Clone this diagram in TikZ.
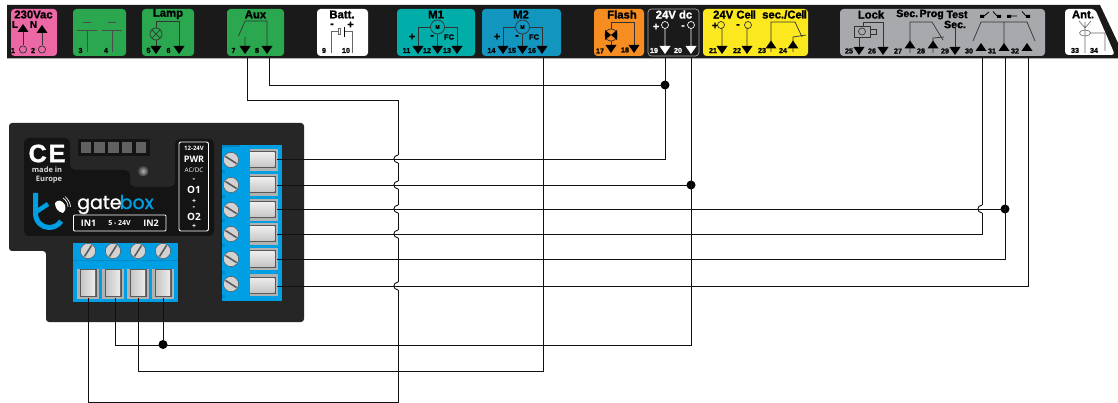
\documentclass[tikz,border=0pt]{standalone}
\usepackage{fontspec}
\setmainfont{Liberation Sans}[BoldFeatures={FakeBold=1.4}]
\newfontfamily\opn{Open Sans}
\newfontfamily\pop{Poppins}[FakeBold=0.9]
\usetikzlibrary{calc}
\definecolor{barblack}{HTML}{1A1A1A}
\definecolor{pinkc}{HTML}{EC68A5}
\definecolor{greenc}{HTML}{2BA84F}
\definecolor{tealc}{HTML}{00ADA9}
\definecolor{blueh}{HTML}{1296BF}
\definecolor{orangec}{HTML}{F58D20}
\definecolor{yellowc}{HTML}{FCE81F}
\definecolor{grayc}{HTML}{A7A9AC}
\definecolor{devc}{HTML}{262626}
\definecolor{panelc}{HTML}{141414}
\definecolor{termb}{HTML}{009FE3}
\definecolor{termd}{HTML}{0089C9}
\definecolor{wirec}{HTML}{111111}
\tikzset{
 x=1pt,y=-1pt,
 box/.style={rounded corners=3.5pt,draw=none},
 ttl/.style={font=\bfseries\fontsize{11.3}{11.3}\selectfont,inner sep=0pt,text=black},
 num/.style={font=\bfseries\fontsize{7.2}{7.2}\selectfont,inner sep=0pt,text=black},
 sgn/.style={font=\bfseries\fontsize{11}{11}\selectfont,inner sep=0pt,text=black},
 sym/.style={line width=.7pt,draw=black!80},
 wsym/.style={line width=.7pt,draw=white},
 wire/.style={line width=.9pt,draw=wirec},
 dot/.style={circle,fill=black,inner sep=0pt,minimum size=9pt},
 pw/.style={font=\opn\bfseries\fontsize{8}{8}\selectfont,inner sep=0pt,text=white},
}
\newcommand{\tdn}[3][black]{\fill[#1] (#2-5.5,#3) -- (#2+5.5,#3) -- (#2,#3+8) -- cycle;}
\newcommand{\tup}[3][black]{\fill[#1] (#2-5.5,#3) -- (#2+5.5,#3) -- (#2,#3-8) -- cycle;}
\newcommand{\rscrew}[2]{%
 \fill[gray!35] (#1,#2) circle (7.6);
 \draw[gray!70!black,line width=.5pt] (#1,#2) circle (7.6);
 \draw[black!65,line width=1.6pt] (#1-5.5,#2-3.5) -- (#1+5.5,#2+3.5);}
\newcommand{\bscrew}[2]{%
 \fill[gray!35] (#1,#2) circle (7.6);
 \draw[gray!70!black,line width=.5pt] (#1,#2) circle (7.6);
 \draw[black!65,line width=1.6pt] (#1-3.5,#2+5.5) -- (#1+3.5,#2-5.5);}
\newcommand{\rterm}[1]{%
 \fill[gray!60] (250,#1-11) rectangle (278,#1+11);
 \fill[black!65] (250,#1-8.5) rectangle (276,#1+8.5);
 \shade[top color=gray!15,bottom color=gray!45] (250,#1-7) rectangle (274.5,#1+7);}
\newcommand{\bterm}[1]{%
 \fill[gray!60] (#1-11,269) rectangle (#1+11,299);
 \fill[black!65] (#1-8.5,269) rectangle (#1+8.5,296.5);
 \shade[left color=gray!45,right color=gray!15] (#1-7,270) rectangle (#1+7,295);}
\newcommand{\hopat}[2]{\draw[wire] (#1,#2-4) .. controls (#1-5.5,#2-3) and (#1-5.5,#2+3) .. (#1,#2+4);}
\begin{document}
\begin{tikzpicture}
\useasboundingbox (0,0) rectangle (1118,403);
\fill[white] (0,0) rectangle (1118,403);
% header bar
\fill[barblack] (7,5) -- (1100,5) -- (1118,43) -- (1118,58.5) -- (7,58.5) -- cycle;
% module boxes
\fill[pinkc,box] (11,9) rectangle (57,56);
\fill[greenc,box] (73,9) rectangle (126,56);
\fill[greenc,box] (142,9) rectangle (194,56);
\fill[greenc,box] (227,9) rectangle (284,56);
\fill[white,box] (317,9) rectangle (368,56);
\fill[tealc,box] (397,9) rectangle (475,56);
\fill[blueh,box] (482,9) rectangle (561,56);
\fill[orangec,box] (594,9) rectangle (644,56);
\draw[gray!70,rounded corners=3.5pt,line width=.7pt] (648,9) rectangle (699,56);
\fill[yellowc,box] (703,9) rectangle (808,56);
\fill[grayc,box] (840,9) rectangle (1045,56);
\fill[white,rounded corners=3.5pt] (1065,9) -- (1095,9) -- (1115,55) -- (1065,55) -- cycle;
% 230Vac
\node[ttl] at (33.5,14.5) {230Vac};
\node[sgn,font=\bfseries\fontsize{9.5}{9.5}\selectfont] at (15,24.5) {L};
\node[sgn,font=\bfseries\fontsize{9.5}{9.5}\selectfont] at (33.5,24.5) {N};
\tup{23}{32}\tup{42}{33}
\draw[sym] (23,32) -- (23,45.5) (42,33) -- (42,45.5);
\draw[sym] (23,49.5) circle (3.6) (42,49.5) circle (3.6);
\node[num] at (13,50.5) {1};\node[num] at (33,50.5) {2};
% 3 4
\draw[line width=.7pt,draw=black!70] (83,22) -- (91,22) (77,30) -- (97,30) (87,30) -- (87,52)
 (108,22) -- (116,22) (102,30) -- (122,30) (112,30) -- (112,52);
\node[num] at (80.5,50.5) {3};\node[num] at (106,50.5) {4};
% Lamp
\node[ttl] at (168,14) {Lamp};
\draw[sym] (156,28) -- (156,21) -- (179,21) -- (179,46) (156,40) -- (156,46);
\draw[sym] (156,34) circle (6) (151.8,29.8) -- (160.2,38.2) (151.8,38.2) -- (160.2,29.8);
\tdn{156}{46}\tdn{179}{46}
\node[num] at (148.5,50.5) {5};\node[num] at (168.5,50.5) {6};
% Aux
\node[ttl] at (255.5,14.5) {Aux};
\draw[sym] (238.5,36) -- (245,21) -- (267,21) -- (267,46) (245,37) -- (245,46);
\tdn{245}{46}\tdn{267}{46}
\node[num] at (233.5,50.5) {7};\node[num] at (257,50.5) {8};
% Batt
\node[ttl] at (342,14.5) {Batt.};
\node[sgn] at (332,25.5) {-};\node[sgn] at (350.5,25) {+};
\draw[line width=.6pt,draw=black!60] (331,53) -- (331,31) -- (338,31) (344,31) -- (352,31) -- (352,53);
\draw[line width=.5pt,draw=black!60] (338,28) rectangle (340,34);
\draw[line width=1pt,draw=black] (344,27) -- (344,37);
\node[num] at (324,50.5) {9};\node[num] at (346,50.5) {10};
% M1 / M2
\foreach \dx/\na/\nb/\nc/\ti/\cc in {0/11/12/13/M1/tealc,85/14/15/16/M2/blueh}{
 \node[ttl] at (436+\dx,14.5) {\ti};
 \draw[sym] (418+\dx,46) -- (418+\dx,27) -- (457+\dx,27) -- (457+\dx,46) (437.5+\dx,34) -- (437.5+\dx,46);
 \draw[sym,fill=\cc] (437.5+\dx,27) circle (7);
 \node[num,font=\bfseries\fontsize{5.5}{5.5}\selectfont] at (437.5+\dx,27) {M};
 \tdn{418+\dx}{46}\tdn{437.5+\dx}{46}\tdn{457+\dx}{46}
 \node[sgn] at (412+\dx,37) {+};\node[sgn] at (432+\dx,37) {-};
 \node[num,font=\bfseries\fontsize{7.5}{7.5}\selectfont] at (449+\dx,37) {FC};
 \node[num] at (406.5+\dx,50.5) {\na};\node[num] at (427+\dx,50.5) {\nb};\node[num] at (447+\dx,50.5) {\nc};
}
% Flash
\node[ttl] at (622,14.5) {Flash};
\draw[sym] (611,29) -- (611,22) -- (634,22) -- (634,45) (611,41) -- (611,46);
\draw[sym] (611,35) circle (6);
\fill[black] (605,30) -- (611,35) -- (617,30) -- (617,40) -- (611,35) -- (605,40) -- cycle;
\tdn{611}{45}\tdn{634}{45}
\node[num] at (600,51) {17};\node[num] at (625,50) {18};
% 24V dc
\node[ttl,text=white] at (674,14.5) {24V dc};
\node[sgn,text=white] at (656,27) {+};\node[sgn,text=white] at (683,27) {-};
\draw[wsym] (665,25) circle (3.5) (691,25) circle (3.5) (665,28.5) -- (665,46) (691,28.5) -- (691,46);
\tdn[white]{665}{46}\tdn[white]{691}{46}
\node[num,text=white] at (654,50.5) {19};\node[num,text=white] at (678,50.5) {20};
% yellow
\node[ttl] at (734.5,14.5) {24V Ce\kern-.5pt l\kern-.7pt l};
\node[ttl] at (784.5,14.5) {sec./Ce\kern-.5pt l\kern-.7pt l};
\node[sgn] at (715,26) {+};\node[sgn] at (738,26) {-};
\draw[sym] (721,25) circle (3.5) (748,25) circle (3.5) (722,28) -- (722,46) (747,28) -- (747,46);
\tdn{722}{46}\tdn{747}{46}
\node[num] at (713,50.5) {21};\node[num] at (737,50.5) {22};
\draw[sym] (771,52) -- (771,22) -- (795,22) -- (802,37) (793,52) -- (793,37) -- (806,35);
\tup{771}{48.5}\tup{793}{48.5}
\node[num] at (762,50.5) {23};\node[num] at (783,50.5) {24};
% Lock
\node[ttl] at (871,14.5) {Lock};
\draw[sym] (854,26) rectangle (870,37) (870,29) rectangle (876,34);
\draw[sym] (862,31.5) circle (3.5);
\draw[sym] (863,22) -- (883,22) -- (883,47) (859,37) -- (859,47) (863,22) -- (863,26);
\tdn{859}{47}\tdn{883}{47}
\node[num] at (849,51) {25};\node[num] at (872,51) {26};
% Sec prog
\node[ttl,font=\bfseries\fontsize{10.6}{10.6}\selectfont] at (920,14.5) {Sec.\kern1.5pt Prog};
\draw[sym] (910,53) -- (910,22) -- (932,22) -- (943,40) (933,53) -- (933,38) -- (944,37);
\tup{910}{48.5}\tup{933}{48.5}
\node[num] at (898,51) {27};\node[num] at (921,51) {28};
% Test Sec
\node[ttl,font=\bfseries\fontsize{10.6}{10.6}\selectfont] at (957,14.5) {Test};
\node[ttl,font=\bfseries\fontsize{10.6}{10.6}\selectfont] at (955,24.5) {Sec.};
\draw[sym] (955,28) -- (955,47);
\tdn{955}{47}
\node[num] at (945,51) {29};
% relays
\draw[sym] (973,41) -- (981,22) -- (1027,22) -- (1035,41) (1004,22) -- (1004,47);
\draw[sym] (981,51) -- (981,45) (1027,51) -- (1027,45);
\tup{981}{51}\tup{1004}{51}\tup{1027}{51}
\node[num] at (969,51) {30};\node[num] at (992,51) {31};\node[num] at (1015,51) {32};
\fill[black] (980,15) rectangle (984,18) (997,15) rectangle (1001,18) (1007,15) rectangle (1011,18) (1026,15) rectangle (1030,18);
\draw[line width=.8pt] (984,16) -- (989,12) (997,16) -- (993,11.5) (1011,16) -- (1017,16) (1026,16) -- (1022,11.5);
% Ant
\node[ttl] at (1083,14.5) {Ant.};
\draw[line width=.6pt,draw=black!60] (1079,21) -- (1085,28) -- (1091,21) (1085,22) -- (1085,53) (1090,33) -- (1105,33) -- (1105,51);
\draw[line width=.6pt,draw=black!60] (1085,33) ellipse (5.5 and 3);
\node[num] at (1075,50.5) {33};\node[num] at (1094,50.5) {34};
% device
\fill[devc,rounded corners=3pt] (9,123) -- (304,123) -- (304,322) -- (46,322) -- (46,251) -- (9,251) -- cycle;
\fill[panelc,rounded corners=5pt] (24,138) -- (70,138) -- (70,170) -- (130,170) -- (130,187) -- (175,187) -- (175,139) -- (214,139) -- (214,236) -- (24,236) -- cycle;
\fill[panelc] (78,139) rectangle (150,156);
\foreach \i in {0,...,4} \fill[black!62] (80.5+\i*13.8,142) rectangle (91+\i*13.8,153);
\shade[inner color=gray!60,outer color=black!80] (143,171) circle (5.5);
\node[font=\bfseries\fontsize{25}{25}\selectfont,text=white,inner sep=0pt] at (47,153.5) {C\kern2pt E};
\node[font=\opn\bfseries\fontsize{7.5}{7.5}\selectfont,text=white!85!black,inner sep=0pt] at (47,170) {made in};
\node[font=\opn\bfseries\fontsize{7.5}{7.5}\selectfont,text=white!85!black,inner sep=0pt] at (49,179.5) {Europe};
% logo
\draw[termb,line width=5pt] (35.5,193) -- (35.5,213) .. controls (35.5,222) and (42,227.5) .. (49,227.5) .. controls (54,227.5) and (59,225) .. (61,221);
\draw[termb,line width=4.5pt] (36,212) -- (48,204);
\fill[white] (55,203) .. controls (58,199) and (62,200) .. (65,205) .. controls (66,209) and (65,212) .. (63,213) .. controls (58,212) and (55,208) .. (55,203) -- cycle;
\draw[white,line width=.7pt] (63,198) .. controls (66,200) and (68,203) .. (68,207) (65,196.5) .. controls (68,199) and (70.5,203) .. (70.5,207);
\node[font=\pop\fontsize{19}{19}\selectfont,text=white,inner sep=0pt,anchor=base west] at (77,209) {gate};
\node[font=\pop\fontsize{19}{19}\selectfont,text=termb,inner sep=0pt,anchor=base west] at (119.5,209) {box};
% IN box
\draw[white,rounded corners=1pt,line width=.9pt] (73.5,215) rectangle (166,231);
\node[pw,font=\opn\bfseries\fontsize{9}{9}\selectfont] at (88.5,223) {IN1};
\node[pw,font=\opn\bfseries\fontsize{7}{7}\selectfont] at (119.5,223) {5 - 24V};
\node[pw,font=\opn\bfseries\fontsize{9}{9}\selectfont] at (151,223) {IN2};
% PWR box
\draw[white,rounded corners=2pt,line width=.9pt] (179,142) rectangle (208.5,231);
\node[pw,font=\opn\bfseries\fontsize{6}{6}\selectfont] at (194,148) {12-24V};
\node[pw,font=\opn\bfseries\fontsize{9}{9}\selectfont] at (194,159.5) {PWR};
\node[pw,font=\opn\fontsize{6.3}{6.3}\selectfont] at (194,170) {AC/DC};
\node[pw] at (194,180) {-};
\node[pw,font=\opn\bfseries\fontsize{10}{10}\selectfont] at (194,190) {O1};
\node[pw,font=\opn\bfseries\fontsize{7}{7}\selectfont] at (194,201) {+};
\node[pw] at (194,208.5) {-};
\node[pw,font=\opn\bfseries\fontsize{10}{10}\selectfont] at (194,216.5) {O2};
\node[pw,font=\opn\bfseries\fontsize{7}{7}\selectfont] at (194,226.5) {+};
% right terminal
\fill[termb] (222,145) rectangle (282,301);
\fill[termd] (222,145) rectangle (240,147);
\foreach \y in {147,172,197,221,246,272,296} \fill[termd] (222,\y-1.5) rectangle (225,\y+1.5);
\foreach \y in {160,185,210,234,259,285}{\rterm{\y}}
\foreach \y in {160,185,210,234,259,284}{\rscrew{231}{\y}}
% bottom terminal
\fill[termb] (73,243) rectangle (178,302);
\fill[termd] (73,260) rectangle (178,261);
\foreach \x in {88,113,138,163}{\bterm{\x}\bscrew{\x}{251}}
% named connection points
\coordinate (p7) at (247,58);
\coordinate (p8) at (269,58);
\coordinate (p16) at (543,58);
\coordinate (p19) at (665,58);
\coordinate (p20) at (691,58);
\coordinate (p30) at (982,58);
\coordinate (p31) at (1005,58);
\coordinate (p32) at (1028,58);
\coordinate (o1) at (277,159);
\coordinate (o2) at (277,185);
\coordinate (o3) at (277,209);
\coordinate (o4) at (277,234);
\coordinate (o5) at (277,259);
\coordinate (o6) at (277,286);
\coordinate (i1) at (88,298);
\coordinate (i2) at (115,298);
\coordinate (i3) at (138,298);
\coordinate (i4) at (163,298);
\coordinate (bendA) at (398,100);
\coordinate (bendB) at (398,402);
\coordinate (rA) at (691,345);
\coordinate (rB) at (543,371);
\node[dot] (j1) at (665,85) {};
\node[dot] (j2) at (691,185) {};
\node[dot] (j3) at (1005,209) {};
\node[dot] (j4) at (163,344.5) {};
% wires
\draw[wire] (p7) |- (398,100) -- (398,155);
\hopat{398}{159}
\draw[wire] (398,163) -- (398,181);
\hopat{398}{185}
\draw[wire] (398,189) -- (398,205);
\hopat{398}{209}
\draw[wire] (398,213) -- (398,230);
\hopat{398}{234}
\draw[wire] (398,238) -- (398,282);
\hopat{398}{286}
\draw[wire] (398,290) -- (bendB) -| (i1);
\draw[wire] (p8) |- (j1.center);
\draw[wire] (p19) |- (o1);
\draw[wire] (p20) |- (i2 |- rA) -- (i2);
\draw[wire] (o2) -- (j2.center);
\draw[wire] (p16) |- (i3 |- rB) -- (i3);
\draw[wire] (i4) -- (j4.center);
\draw[wire] (o3) -- (j3.center);
\draw[wire] (p30) -- (982,205);
\hopat{982}{209}
\draw[wire] (982,213) |- (o4);
\draw[wire] (p31) |- (o5);
\draw[wire] (p32) |- (o6);
\end{tikzpicture}
\end{document}
